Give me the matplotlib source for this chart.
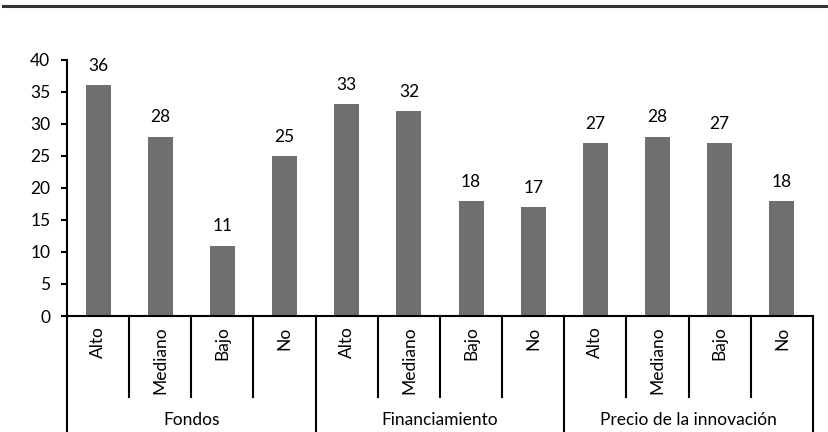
import numpy as np
import matplotlib.pyplot as plt
from matplotlib.lines import Line2D

plt.rcParams['font.family'] = ['Lato', 'DejaVu Sans']

# Data
groups = ['Fondos', 'Financiamiento', 'Precio de la innovación']
levels = ['Alto', 'Mediano', 'Bajo', 'No']
values = [36, 28, 11, 25,
          33, 32, 18, 17,
          27, 28, 27, 18]

n_lev = len(levels)
x = np.arange(len(values))
fs = 12.5

fig = plt.figure(figsize=(8.29, 4.32), dpi=100)
ax = fig.add_axes([0.0808, 0.2685, 0.8999, 0.5935])

ax.bar(x, values, width=0.4, color='#6f6f6f')
for xi, v in zip(x, values):
    ax.annotate(str(v), (xi, v), xytext=(0, 8), textcoords='offset points',
                ha='center', va='bottom', fontsize=fs)

ax.set_xlim(-0.5, len(values) - 0.5)
ax.set_ylim(0, 40)
ax.set_yticks(range(0, 41, 5))
ax.tick_params(axis='y', labelsize=fs, length=4, width=1.5, direction='out', pad=8)
ax.set_xticks([])
for s in ['top', 'right']:
    ax.spines[s].set_visible(False)
ax.spines['left'].set_linewidth(1.5)
ax.spines['bottom'].set_linewidth(1.5)

# Multi-level category axis
trans = ax.get_xaxis_transform()
for i in range(len(values) + 1):
    pos = i - 0.5
    bottom = -0.452 if i % n_lev == 0 else -0.316
    ax.plot([pos, pos], [0, bottom], transform=trans, color='black',
            lw=1.5, clip_on=False)

for xi in x:
    ax.text(xi, -0.04, levels[xi % n_lev], transform=trans, rotation=90,
            ha='center', va='top', fontsize=fs)

for g, name in enumerate(groups):
    ax.text(g * n_lev + (n_lev - 1) / 2, -0.405, name, transform=trans,
            ha='center', va='center', fontsize=fs)

# Rule across the top of the figure
fig.add_artist(Line2D([0.004, 1.0], [0.986, 0.986], transform=fig.transFigure,
                      color='#333333', lw=2.2))

fig.savefig('out.png', dpi=100)
